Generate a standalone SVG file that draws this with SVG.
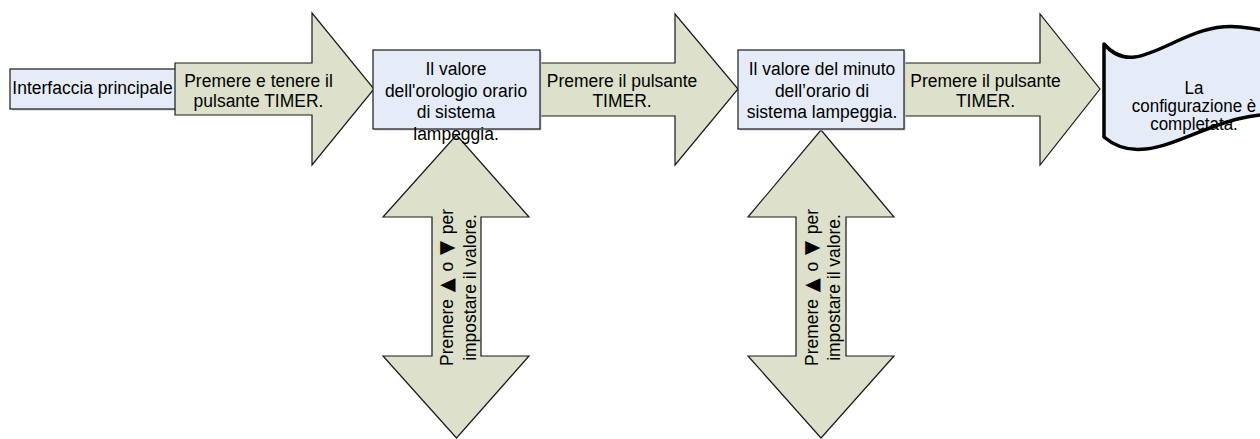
<svg xmlns="http://www.w3.org/2000/svg" width="1260" height="439" viewBox="0 0 1260 439">
<defs>
<style>
text{font-family:"Liberation Sans",Arial,sans-serif;font-size:19px;fill:#000;text-anchor:middle}
.tri{font-family:"DejaVu Sans","Liberation Sans",sans-serif;font-size:20px}
.small{font-size:17.5px}
.box{fill:#E6ECF7;stroke:#1a1a1a;stroke-width:1.2}
.shadow{fill:#c8ccd4}
.arrow{fill:#DDE0CA;stroke:#1a1a1a;stroke-width:1.2;stroke-linejoin:miter}
.tape{fill:#E6ECF7;stroke:#000;stroke-width:3.5;stroke-linejoin:round}
</style>
</defs>
<rect width="1260" height="439" fill="#fff"/>
<g id="node-interfaccia">
<rect class="shadow" x="11.5" y="70.5" width="175" height="40"/>
<rect class="box" x="10" y="69" width="175" height="40"/>
<g transform="translate(92.5,0) scale(0.92,1)"><text x="0" y="94">Interfaccia principale</text></g>
</g>
<g id="connectors">
<g id="arrow-1">
<polygon class="arrow" points="175,63 312,63 312,13 374,89 312,165 312,115 175,115"/>
<g transform="translate(258.5,0) scale(0.92,1)">
<text x="0" y="87.5">Premere e tenere il</text>
<text x="0" y="107.5">pulsante TIMER.</text>
</g>
</g>
<g id="arrow-2">
<polygon class="arrow" points="540,63 675,63 675,14 738,89 675,165 675,116 540,116"/>
<g transform="translate(622,0) scale(0.92,1)">
<text x="0" y="87.5">Premere il pulsante</text>
<text x="0" y="107.5">TIMER.</text>
</g>
</g>
<g id="arrow-3">
<polygon class="arrow" points="904,63 1040,63 1040,14 1100,89 1040,165 1040,116 904,116"/>
<g transform="translate(985.5,0) scale(0.92,1)">
<text x="0" y="87.5">Premere il pulsante</text>
<text x="0" y="107.5">TIMER.</text>
</g>
</g>
<g id="updown-1">
<polygon class="arrow" points="456.5,135 529,217 481,217 481,356 529,356 456.5,438 383,356 432,356 432,217 383,217"/>
<g transform="translate(456.5,287.5) rotate(-90) scale(0.92,1)">
<text x="0" y="-3.5">Premere <tspan class="tri" dx="2">▲</tspan><tspan dx="2"> o </tspan><tspan class="tri" dx="2">▼</tspan><tspan dx="2"> per</tspan></text>
<text x="0" y="19.5">impostare il valore.</text>
</g>
</g>
<g id="updown-2">
<polygon class="arrow" points="821,130 894,217 846,217 846,356 894,356 821,438 748,356 796,356 796,217 748,217"/>
<g transform="translate(821,287.5) rotate(-90) scale(0.92,1)">
<text x="0" y="-3.5">Premere <tspan class="tri" dx="2">▲</tspan><tspan dx="2"> o </tspan><tspan class="tri" dx="2">▼</tspan><tspan dx="2"> per</tspan></text>
<text x="0" y="19.5">impostare il valore.</text>
</g>
</g>
</g>
<g id="node-ora">
<rect class="shadow" x="374.5" y="51.5" width="167" height="79"/>
<rect class="box" x="373" y="50" width="167" height="79"/>
<g transform="translate(456,0) scale(0.92,1)">
<text x="0" y="75.5">Il valore</text>
<text x="0" y="97">dell'orologio orario</text>
<text x="0" y="118.5">di sistema</text>
<text x="0" y="140">lampeggia.</text>
</g>
</g>
<g id="node-minuto">
<rect class="shadow" x="739.5" y="51.5" width="166" height="79"/>
<rect class="box" x="738" y="50" width="166" height="79"/>
<g transform="translate(822,0) scale(0.92,1)">
<text x="0" y="75.5">Il valore del minuto</text>
<text x="0" y="97">dell’orario di</text>
<text x="0" y="118.5">sistema lampeggia.</text>
</g>
</g>
<g id="node-fine">
<path class="tape" d="M1104,44 C1138,84 1180,20 1240,27 S1290,40 1300,42 L1300,115 L1290,115 C1210,105 1152,178 1104,137 Z"/>
<g transform="translate(1194,0) scale(0.97,1)">
<text class="small" x="0" y="94.5">La</text>
<text class="small" x="0" y="112.5">configurazione è</text>
<text class="small" x="0" y="130.5">completata.</text>
</g>
</g>
</svg>
